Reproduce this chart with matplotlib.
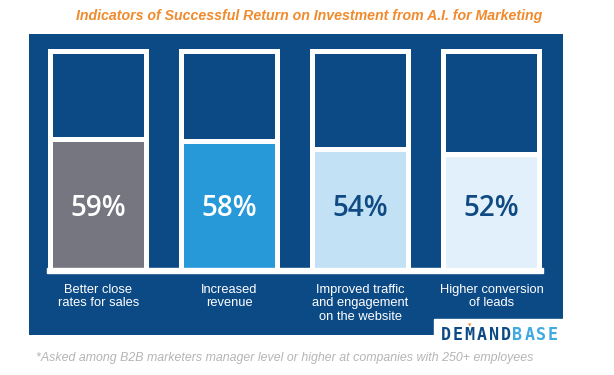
import matplotlib
matplotlib.use("Agg")
import matplotlib.pyplot as plt
from matplotlib.patches import Rectangle

# chart data
labels = ["Better close\nrates for sales", "Increased\nrevenue",
          "Improved traffic\nand engagement\non the website", "Higher conversion\nof leads"]
values = [59, 58, 54, 52]
value_text = ["59%", "58%", "54%", "52%"]

title = "Indicators of Successful Return on Investment from A.I. for Marketing"
footnote = "*Asked among B2B marketers manager level or higher at companies with 250+ employees"
logo_dark = "DEMAND"
logo_light = "BASE"

# colours
navy = "#0c4a86"
fill_colors = ["#75767f", "#2899d8", "#c2e1f4", "#e1f0fa"]
pct_colors = ["white", "white", "#0f4a83", "#0f4a83"]

W, H = 614, 375
fig = plt.figure(figsize=(W / 100, H / 100), dpi=100)
fig.patch.set_facecolor("white")

# blue panel axes (pixel box 29..563 x 34..335)
ax = fig.add_axes([29 / W, (H - 335) / H, 534 / W, 301 / H])
ax.set_xlim(-0.5305, -0.5305 + 534 / 131)
ax.set_ylim(-31.3, -31.3 + 301 / 2.14)
ax.axis("off")
ax.add_patch(Rectangle((0, 0), 1, 1, transform=ax.transAxes, color=navy, zorder=0))

x = list(range(len(values)))
border = 2.34
outer_w, inner_w = 0.77, 0.695

# white frames, dark inner box, white divider, coloured fill
ax.bar(x, 100 + 2 * border, bottom=-border, width=outer_w, color="white", zorder=1)
ax.bar(x, 100, width=inner_w, color=navy, zorder=2)
ax.bar(x, [v + border for v in values], width=inner_w, color="white", zorder=3)
ax.bar(x, values, width=inner_w, color=fill_colors, zorder=4)

# white base line joining the frames
ax.add_patch(Rectangle((x[0] - outer_w / 2 - 0.01, -border), x[-1] - x[0] + outer_w + 0.02,
                       border, color="white", zorder=5))

for xi, t, c in zip(x, value_text, pct_colors):
    ax.text(xi, 28, t, ha="center", va="center", color=c, fontsize=20,
            fontfamily="Open Sans", fontweight="semibold", zorder=6)

for xi, lab in zip(x, labels):
    ax.text(xi, -7.3, lab, ha="center", va="top", color="white", fontsize=9.3,
            fontfamily="Liberation Sans", linespacing=1.2, zorder=6)

# white box for the logo in the bottom-right corner of the panel
ax.add_patch(Rectangle(((434 - 29) / 534, 0), 1 - (434 - 29) / 534, 16 / 301,
                       transform=ax.transAxes, color="white", zorder=7, clip_on=False))

logo = logo_dark + logo_light
for i, ch in enumerate(logo):
    col = navy if i < len(logo_dark) else "#3fa9e0"
    fig.text((440 + 5.95 + 11.9 * i) / W, (H - 335) / H, ch, ha="center", va="center",
             color=col, fontsize=12, fontfamily="DejaVu Sans Mono", fontweight="bold", zorder=8)
fig.text((440 + 5.95 + 11.9 * 2) / W, (H - 325.5) / H, "\u25BC", ha="center", va="center",
         color="#f08a2c", fontsize=3.2, zorder=9)

fig.text(309 / W, 1 - 16 / H, title, ha="center", va="center", color="#f08a2c",
         fontsize=10.2, fontfamily="Liberation Sans", fontweight="bold", fontstyle="italic")
fig.text(285 / W, (H - 358) / H, footnote, ha="center", va="center", color="#b5b5b5",
         fontsize=8.9, fontfamily="Liberation Sans", fontstyle="italic")

fig.savefig("out.png", dpi=100)
